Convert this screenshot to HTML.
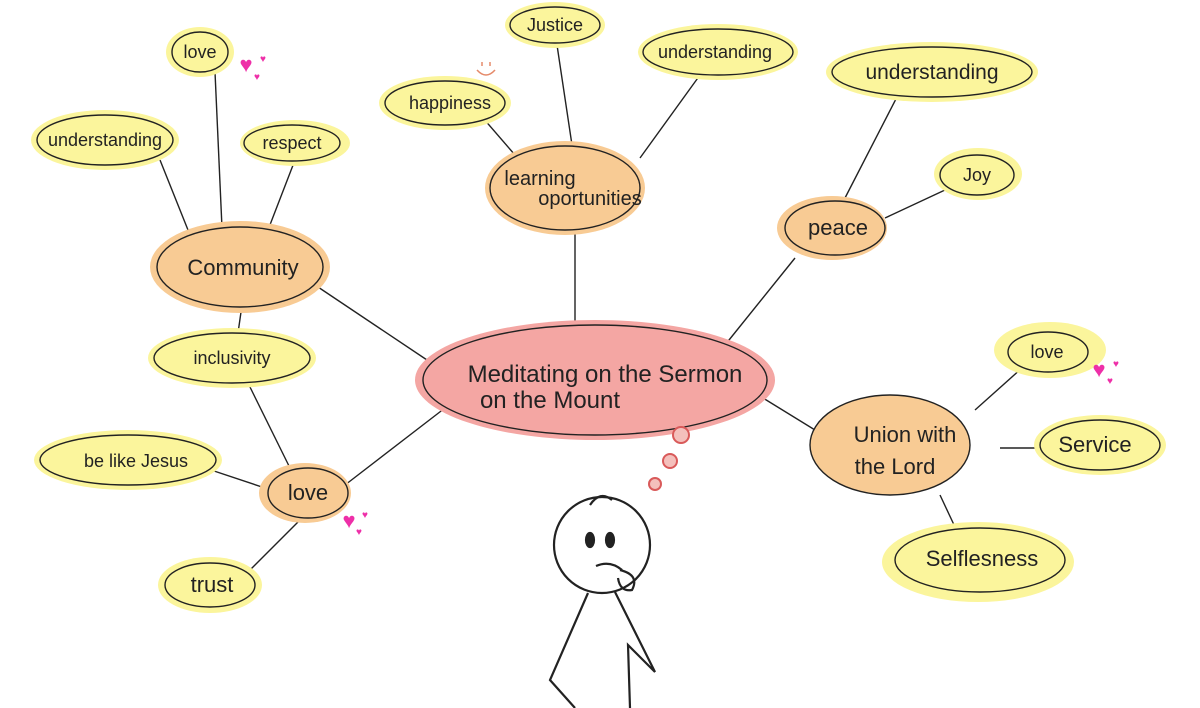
<!DOCTYPE html>
<html><head><meta charset="utf-8"><style>
html,body{margin:0;padding:0;background:#fff;}
svg{display:block;}
text{font-family:"Liberation Sans",sans-serif;fill:#222;text-anchor:middle;}
</style></head><body>
<svg width="1200" height="708" viewBox="0 0 1200 708" xmlns="http://www.w3.org/2000/svg">
<g stroke="#222" stroke-width="1.4" fill="none">
<line x1="315" y1="285" x2="430" y2="362"/>
<line x1="190" y1="235" x2="160" y2="160"/>
<line x1="222" y1="228" x2="215" y2="72"/>
<line x1="268" y1="230" x2="295" y2="160"/>
<line x1="242" y1="305" x2="238" y2="333"/>
<line x1="248" y1="383" x2="290" y2="468"/>
<line x1="205" y1="468" x2="265" y2="488"/>
<line x1="300" y1="520" x2="250" y2="570"/>
<line x1="345" y1="485" x2="445" y2="408"/>
<line x1="575" y1="230" x2="575" y2="325"/>
<line x1="483" y1="118" x2="515" y2="155"/>
<line x1="557" y1="45" x2="572" y2="145"/>
<line x1="700" y1="75" x2="640" y2="158"/>
<line x1="725" y1="345" x2="795" y2="258"/>
<line x1="898" y1="95" x2="845" y2="198"/>
<line x1="885" y1="218" x2="945" y2="190"/>
<line x1="763" y1="398" x2="815" y2="430"/>
<line x1="975" y1="410" x2="1022" y2="368"/>
<line x1="1000" y1="448" x2="1040" y2="448"/>
<line x1="940" y1="495" x2="955" y2="527"/>
</g>
<g fill="#fbf59c">
<ellipse cx="200" cy="52" rx="34" ry="25"/>
<ellipse cx="105" cy="140" rx="74" ry="30"/>
<ellipse cx="295" cy="143" rx="55" ry="23"/>
<ellipse cx="232" cy="358" rx="84" ry="30"/>
<ellipse cx="128" cy="460" rx="94" ry="30"/>
<ellipse cx="210" cy="585" rx="52" ry="28"/>
<ellipse cx="445" cy="103" rx="66" ry="27"/>
<ellipse cx="555" cy="25" rx="50" ry="23"/>
<ellipse cx="718" cy="52" rx="80" ry="28"/>
<ellipse cx="932" cy="72" rx="106" ry="30"/>
<ellipse cx="978" cy="174" rx="44" ry="26"/>
<ellipse cx="1050" cy="350" rx="56" ry="28"/>
<ellipse cx="1100" cy="445" rx="66" ry="30"/>
<ellipse cx="978" cy="562" rx="96" ry="40"/>
</g>
<g fill="#f8cb94">
<ellipse cx="240" cy="267" rx="90" ry="46"/>
<ellipse cx="305" cy="493" rx="46" ry="30"/>
<ellipse cx="565" cy="188" rx="80" ry="47"/>
<ellipse cx="832" cy="228" rx="55" ry="32"/>
</g>
<ellipse cx="595" cy="380" rx="180" ry="60" fill="#f4a6a3"/>
<g stroke="#222" stroke-width="1.4">
<ellipse cx="200" cy="52" rx="28" ry="20" fill="#fbf59c"/>
<ellipse cx="105" cy="140" rx="68" ry="25" fill="#fbf59c"/>
<ellipse cx="292" cy="143" rx="48" ry="18" fill="#fbf59c"/>
<ellipse cx="232" cy="358" rx="78" ry="25" fill="#fbf59c"/>
<ellipse cx="128" cy="460" rx="88" ry="25" fill="#fbf59c"/>
<ellipse cx="210" cy="585" rx="45" ry="22" fill="#fbf59c"/>
<ellipse cx="445" cy="103" rx="60" ry="22" fill="#fbf59c"/>
<ellipse cx="555" cy="25" rx="45" ry="18" fill="#fbf59c"/>
<ellipse cx="718" cy="52" rx="75" ry="23" fill="#fbf59c"/>
<ellipse cx="932" cy="72" rx="100" ry="25" fill="#fbf59c"/>
<ellipse cx="977" cy="175" rx="37" ry="20" fill="#fbf59c"/>
<ellipse cx="1048" cy="352" rx="40" ry="20" fill="#fbf59c"/>
<ellipse cx="1100" cy="445" rx="60" ry="25" fill="#fbf59c"/>
<ellipse cx="980" cy="560" rx="85" ry="32" fill="#fbf59c"/>
<ellipse cx="240" cy="267" rx="83" ry="40" fill="#f8cb94"/>
<ellipse cx="308" cy="493" rx="40" ry="25" fill="#f8cb94"/>
<ellipse cx="565" cy="188" rx="75" ry="42" fill="#f8cb94"/>
<ellipse cx="835" cy="228" rx="50" ry="27" fill="#f8cb94"/>
<ellipse cx="890" cy="445" rx="80" ry="50" fill="#f8cb94"/>
<ellipse cx="595" cy="380" rx="172" ry="55" fill="#f4a6a3"/>
</g>
<g font-size="18">
<text x="200" y="58">love</text>
<text x="105" y="146">understanding</text>
<text x="292" y="149">respect</text>
<text x="232" y="364">inclusivity</text>
<text x="136" y="467">be like Jesus</text>
<text x="212" y="592" font-size="22">trust</text>
<text x="450" y="109">happiness</text>
<text x="555" y="31">Justice</text>
<text x="715" y="58">understanding</text>
<text x="932" y="79" font-size="21">understanding</text>
<text x="977" y="181">Joy</text>
<text x="1047" y="358">love</text>
<text x="1095" y="452" font-size="22">Service</text>
<text x="982" y="566" font-size="22">Selflesness</text>
<text x="243" y="275" font-size="22">Community</text>
<text x="308" y="500" font-size="22">love</text>
<text x="540" y="185" font-size="20">learning</text>
<text x="590" y="205" font-size="20">oportunities</text>
<text x="838" y="235" font-size="22">peace</text>
<text x="905" y="442" font-size="22">Union with</text>
<text x="895" y="474" font-size="22">the Lord</text>
<text x="605" y="382" font-size="24">Meditating on the Sermon</text>
<text x="550" y="408" font-size="24">on the Mount</text>
</g>
<g>
<text x="246" y="72" style="fill:#ee2fa8;font-size:22px">♥</text><text x="263" y="62" style="fill:#ee2fa8;font-size:10px">♥</text><text x="257" y="80" style="fill:#ee2fa8;font-size:10px">♥</text>
<text x="349" y="528" style="fill:#ee2fa8;font-size:22px">♥</text><text x="365" y="518" style="fill:#ee2fa8;font-size:10px">♥</text><text x="359" y="535" style="fill:#ee2fa8;font-size:10px">♥</text>
<text x="1099" y="377" style="fill:#ee2fa8;font-size:22px">♥</text><text x="1116" y="367" style="fill:#ee2fa8;font-size:10px">♥</text><text x="1110" y="384" style="fill:#ee2fa8;font-size:10px">♥</text>
</g>
<path d="M477 70 Q486 80 495 70" stroke="#e58a6a" fill="none" stroke-width="1.5"/>
<line x1="482" y1="62" x2="482" y2="66" stroke="#e58a6a" stroke-width="1.5"/>
<line x1="490" y1="62" x2="490" y2="66" stroke="#e58a6a" stroke-width="1.5"/>
<g stroke="#d95a5a" stroke-width="2" fill="#f4c0bc">
<circle cx="681" cy="435" r="8"/><circle cx="670" cy="461" r="7"/><circle cx="655" cy="484" r="6"/>
</g>
<g stroke="#222" stroke-width="2.2" fill="none">
<circle cx="602" cy="545" r="48" fill="#fff"/>
<path d="M590 505 Q600 490 612 500"/>
<ellipse cx="590" cy="540" rx="4" ry="7" fill="#222"/>
<ellipse cx="610" cy="540" rx="4" ry="7" fill="#222"/>
<path d="M596 566 Q610 560 622 570"/>
<path d="M620 570 Q640 575 632 590 Q620 592 618 578"/>
<path d="M588 593 L550 680 L575 708"/>
<path d="M615 592 L655 672 L628 645 L630 708"/>
</g>
</svg>
</body></html>
